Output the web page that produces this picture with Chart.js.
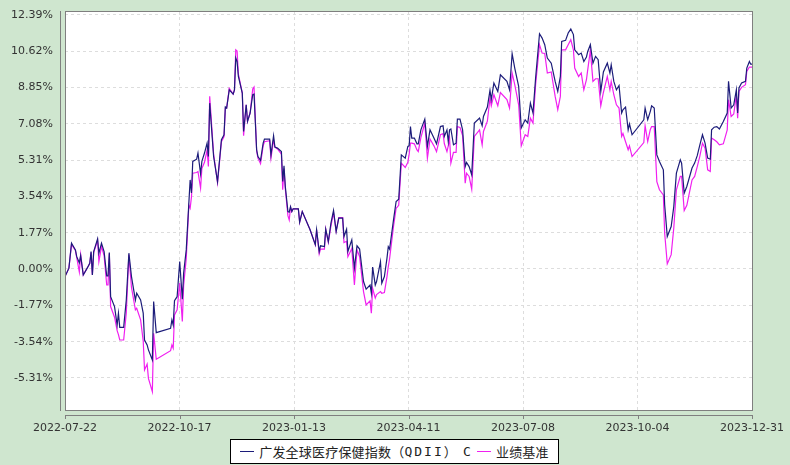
<!DOCTYPE html>
<html>
<head>
<meta charset="utf-8">
<script src="https://cdn.jsdelivr.net/npm/chart.js@4.4.1/dist/chart.umd.min.js"></script>
<style>
    html, body { margin: 0; padding: 0; background: #cfe6cf; }
    #wrap { position: relative; width: 790px; height: 465px; }
    #legend {
        position: absolute; left: 230px; top: 439px; width: 327px; height: 23px;
        border: 1px solid #000; background: #fff;
        display: flex; align-items: center; justify-content: center;
        font: 13px "Noto Sans CJK SC", sans-serif; color: #222; white-space: nowrap;
        letter-spacing: 0.2px;
    }
    .ln { display: inline-block; width: 14px; height: 1px; margin: 0 5px 0 0; }
    .mono { font-family: "DejaVu Sans Mono", monospace; letter-spacing: 2px; }
    .c { font-family: "DejaVu Sans Mono", monospace; margin-left: 6px; }
    .gap { display: inline-block; width: 6px; }
</style>
</head>
<body>
<div id="wrap">
    <canvas id="navChart" width="790" height="465"></canvas>
    <div id="legend">
        <span class="ln" style="background:#1c1c7a"></span>广发全球医疗保健指数（<span class="mono">QDII</span>）<span class="c">C</span><span class="gap"></span>
        <span class="ln" style="background:#f020f0"></span>业绩基准
    </div>
</div>
<script>
// x axis labels (evenly spaced in calendar time)
const tickLabels = ['2022-07-22', '2022-10-17', '2023-01-13', '2023-04-11', '2023-07-08', '2023-10-04', '2023-12-31'];
const yTicks = [-5.31, -3.54, -1.77, 0, 1.77, 3.54, 5.31, 7.08, 8.85, 10.62, 12.39];
const yMin = -6.87;
const yMax = 12.57;

// days since 2022-07-22
const days = [
    0, 3, 5, 8, 9, 11, 12, 14, 17, 19,
    20, 21, 22, 25, 26, 28, 30, 32, 33, 34,
    35, 38, 40, 41, 42, 45, 47, 49, 51, 54,
    55, 58, 60, 61, 63, 64, 67, 68, 70, 81,
    82, 83, 84, 86, 88, 90, 91, 93, 95, 96,
    97, 98, 101, 102, 104, 105, 107, 109, 110, 111,
    114, 117, 120, 122, 123, 124, 126, 129, 130, 131,
    132, 133, 136, 137, 139, 140, 142, 144, 145, 147,
    148, 150, 152, 153, 157, 158, 160, 161, 163, 166,
    167, 168, 169, 171, 172, 173, 174, 175, 179, 180,
    182, 188, 192, 193, 195, 196, 199, 200, 202, 204,
    206, 208, 210, 213, 214, 216, 217, 220, 222, 224,
    226, 229, 231, 234, 235, 236, 238, 239, 242, 243,
    245, 247, 248, 249, 252, 254, 256, 258, 261, 263,
    264, 265, 266, 268, 270, 271, 273, 276, 278, 280,
    283, 285, 288, 290, 291, 293, 294, 295, 296, 298,
    300, 301, 303, 305, 307, 308, 310, 312, 314, 318,
    320, 321, 324, 326, 327, 329, 332, 334, 339, 341,
    343, 345, 348, 350, 353, 355, 357, 359, 361, 364,
    366, 368, 370, 373, 376, 378, 380, 381, 384, 386,
    388, 390, 391, 394, 396, 398, 400, 401, 403, 405,
    407, 409, 411, 413, 416, 418, 419, 421, 423, 425,
    427, 428, 430, 432, 433, 435, 444, 445, 447, 449,
    450, 452, 454, 456, 459, 460, 462, 465, 467, 469,
    472, 473, 475, 477, 481, 483, 485, 487, 489, 491,
    493, 495, 496, 498, 500, 502, 505, 508, 509, 511,
    513, 515, 516, 517, 519, 522, 523, 525, 526, 527
];

// cumulative return of the fund, %
const fund = [
    -0.37, 0.04, 1.26, 0.93, 0.60, 0.30, 0.65, -0.29, 0.04, 0.28,
    0.85, -0.29, 0.85, 1.47, 0.77, 1.26, 0.85, -0.34, -0.34, 0.80,
    -1.35, -1.83, -2.73, -2.15, -2.84, -2.84, -1.51, 0.77, -0.37, -1.51,
    -1.18, -1.51, -2.15, -3.46, -3.70, -3.94, -4.43, -1.59, -3.10, -2.89,
    -2.48, -2.73, -1.54, -1.35, 0.36, -1.47, -0.20, 0.93, 3.21, 4.34,
    3.70, 5.24, 5.35, 5.65, 4.64, 5.24, 5.65, 6.13, 5.48, 8.08,
    5.48, 4.26, 6.30, 6.54, 7.89, 7.84, 8.73, 8.52, 8.73, 10.28,
    10.11, 9.38, 8.57, 6.70, 8.00, 7.19, 7.60, 8.49, 8.52, 5.81,
    5.48, 5.29, 6.13, 6.33, 6.33, 5.56, 6.49, 5.94, 5.89, 5.72,
    4.26, 5.03, 4.02, 2.80, 2.77, 3.04, 2.80, 2.93, 2.93, 2.28,
    2.80, 1.91, 1.18, 1.91, 0.85, 1.13, 1.09, 1.94, 1.34, 2.23,
    2.85, 1.83, 2.48, 2.48, 1.58, 1.94, 0.85, 1.42, 0.04, 1.13,
    0.97, -0.61, -0.98, -0.78, -1.18, 0.09, -0.78, -0.61, 0.36, -0.69,
    -0.37, 0.53, 1.09, 0.97, 2.39, 3.29, 3.40, 5.56, 5.40, 5.97,
    6.00, 6.94, 6.38, 6.38, 6.10, 6.10, 6.78, 7.30, 5.97, 6.78,
    6.38, 6.10, 6.94, 6.98, 6.46, 6.78, 6.21, 6.78, 6.82, 6.05,
    6.13, 7.30, 7.30, 6.78, 4.99, 5.19, 4.99, 4.59, 7.11, 7.35,
    6.98, 7.43, 7.89, 8.70, 8.25, 9.06, 8.65, 9.46, 9.14, 8.73,
    10.49, 9.79, 8.90, 6.87, 7.27, 7.11, 8.08, 7.60, 9.30, 11.46,
    11.25, 10.93, 10.28, 10.03, 9.14, 8.65, 9.38, 11.09, 11.14, 11.50,
    11.69, 11.42, 10.68, 10.44, 10.52, 10.11, 10.33, 10.60, 10.93, 10.03,
    10.36, 10.20, 8.65, 9.60, 10.03, 9.55, 9.95, 9.14, 8.73, 8.94,
    7.60, 7.76, 7.89, 6.78, 7.07, 6.54, 7.27, 7.84, 7.27, 7.68,
    7.95, 7.84, 5.56, 5.24, 4.83, 3.13, 1.58, 2.07, 3.04, 4.67,
    5.32, 5.16, 3.70, 4.02, 4.92, 5.16, 5.52, 6.05, 6.54, 6.13,
    5.40, 5.35, 6.78, 6.91, 6.94, 6.82, 7.19, 7.60, 9.14, 7.84,
    8.00, 8.73, 7.60, 8.82, 9.06, 9.14, 9.79, 10.11, 9.98, 9.98
];

// benchmark, %
const bench = [
    -0.37, 0.04, 1.20, 0.90, 0.55, -0.15, 0.70, -0.29, 0.04, 0.28,
    0.80, -0.29, 0.80, 1.40, 0.36, 1.10, 0.65, -0.78, -0.78, 0.75,
    -1.83, -2.35, -3.00, -3.20, -3.46, -3.46, -2.15, 0.69, -0.90, -1.99,
    -1.91, -2.48, -3.50, -4.92, -4.63, -5.33, -5.98, -3.13, -4.40, -3.98,
    -3.70, -3.86, -2.24, -1.99, -0.69, -2.56, -0.80, 0.50, 3.11, 2.96,
    3.50, 4.67, 4.70, 4.75, 3.94, 4.90, 5.20, 5.80, 4.99, 8.41,
    5.60, 4.20, 6.20, 6.45, 7.85, 7.84, 8.80, 8.52, 8.73, 10.68,
    10.62, 9.50, 8.57, 6.49, 8.00, 7.19, 7.60, 8.77, 8.86, 5.75,
    5.40, 5.13, 6.00, 6.20, 6.25, 5.40, 6.30, 5.94, 5.85, 5.60,
    3.86, 4.90, 3.90, 2.60, 2.39, 3.00, 2.80, 2.93, 2.93, 2.28,
    2.80, 1.91, 1.18, 1.91, 0.74, 0.97, 0.97, 1.94, 1.30, 2.10,
    2.75, 1.85, 2.50, 2.50, 1.29, 1.35, 0.60, 1.00, -0.78, 0.93,
    0.60, -1.10, -1.75, -1.55, -2.15, -0.94, -1.42, -1.25, -1.10, -1.18,
    -1.15, -0.37, 0.12, 0.50, 2.07, 2.96, 3.10, 5.16, 4.95, 5.20,
    5.60, 6.13, 6.13, 6.10, 5.80, 5.72, 6.40, 7.11, 5.40, 6.33,
    6.00, 5.72, 6.54, 6.60, 6.10, 5.72, 6.00, 6.38, 5.16, 5.68,
    5.68, 6.94, 6.90, 6.50, 4.18, 4.67, 4.51, 3.89, 6.46, 6.78,
    6.05, 6.70, 7.20, 8.33, 7.95, 8.49, 7.95, 8.60, 8.25, 7.84,
    9.55, 8.98, 8.00, 6.00, 6.54, 6.46, 7.35, 7.11, 8.98, 10.93,
    10.52, 10.50, 9.55, 9.60, 8.41, 7.76, 8.41, 10.68, 10.68, 10.93,
    11.17, 10.68, 9.79, 9.38, 9.55, 8.73, 9.22, 9.71, 10.65, 9.14,
    9.27, 9.27, 7.95, 8.60, 9.38, 8.73, 9.14, 8.49, 8.00, 7.84,
    6.46, 6.60, 6.20, 5.81, 6.00, 5.48, 6.16, 6.98, 6.21, 6.80,
    6.94, 6.94, 4.26, 3.86, 3.61, 1.75, 0.25, 0.70, 2.00, 3.86,
    4.51, 4.51, 2.85, 3.10, 4.34, 4.51, 4.99, 5.50, 6.13, 5.89,
    4.83, 4.75, 6.38, 6.30, 6.20, 6.05, 6.10, 6.78, 8.25, 7.43,
    7.55, 8.49, 7.35, 8.65, 8.85, 8.98, 9.63, 9.84, 9.84, 9.84
];

const spanDays = (Date.parse(tickLabels[tickLabels.length - 1]) - Date.parse(tickLabels[0])) / 86400000;

function toPoints(values) {
    return values.map((v, i) => ({ x: days[i], y: v }));
}

// white plot area, grey frame and the offset axis lines
const framePlugin = {
    id: 'frame',
    beforeDraw(chart) {
        const { ctx, chartArea: a } = chart;
        ctx.save();
        ctx.fillStyle = '#ffffff';
        ctx.fillRect(a.left, a.top, a.right - a.left, a.bottom - a.top);
        ctx.restore();
    },
    afterDraw(chart) {
        const { ctx, chartArea: a } = chart;
        const xs = chart.scales.x;
        ctx.save();
        ctx.strokeStyle = '#7f7f7f';
        ctx.lineWidth = 1;
        ctx.strokeRect(a.left + 0.5, a.top + 0.5, a.right - a.left, a.bottom - a.top);
        ctx.beginPath();
        ctx.moveTo(a.left - 4.5, a.top);
        ctx.lineTo(a.left - 4.5, a.bottom + 1);
        ctx.moveTo(a.left, a.bottom + 5.5);
        ctx.lineTo(a.right + 1, a.bottom + 5.5);
        xs.ticks.forEach(t => {
            const x = Math.round(xs.getPixelForValue(t.value)) + 0.5;
            ctx.moveTo(x, a.bottom + 5.5);
            ctx.lineTo(x, a.bottom + 9);
        });
        ctx.stroke();
        ctx.restore();
    }
};

const tickFont = { family: 'DejaVu Sans', size: 11 };

new Chart(document.getElementById('navChart').getContext('2d'), {
    type: 'line',
    data: {
        datasets: [
            {
                label: '广发全球医疗保健指数（QDII）C',
                data: toPoints(fund),
                borderColor: '#1c1c7a',
                borderWidth: 1.2,
                pointRadius: 0,
                tension: 0
            },
            {
                label: '业绩基准',
                data: toPoints(bench),
                borderColor: '#f020f0',
                borderWidth: 1.2,
                pointRadius: 0,
                tension: 0
            }
        ]
    },
    options: {
        responsive: false,
        animation: false,
        layout: { padding: { left: 0, top: 11, right: 38, bottom: 0 } },
        plugins: {
            legend: { display: false },
            tooltip: { enabled: false }
        },
        scales: {
            x: {
                type: 'linear',
                min: 0,
                max: spanDays,
                afterBuildTicks: s => {
                    s.ticks = tickLabels.map((_, i) => ({ value: i * spanDays / (tickLabels.length - 1) }));
                },
                afterFit: s => {
                    s.height = 55;
                    s.paddingLeft = 0;
                    s.paddingRight = 0;
                },
                ticks: {
                    autoSkip: false,
                    maxRotation: 0,
                    padding: 12,
                    color: '#333333',
                    font: tickFont,
                    callback: (v, i) => tickLabels[i]
                },
                grid: { color: '#dddddd', drawTicks: false },
                border: { display: false, dash: [3, 3] }
            },
            y: {
                min: yMin,
                max: yMax,
                afterBuildTicks: s => {
                    s.ticks = yTicks.map(v => ({ value: v }));
                },
                afterFit: s => {
                    s.width = 65;
                    s.paddingTop = 0;
                    s.paddingBottom = 0;
                },
                ticks: {
                    padding: 12,
                    color: '#333333',
                    font: tickFont,
                    callback: v => v.toFixed(2) + '%'
                },
                grid: { color: '#dddddd', drawTicks: false },
                border: { display: false, dash: [3, 3] }
            }
        }
    },
    plugins: [framePlugin]
});
</script>
</body>
</html>
